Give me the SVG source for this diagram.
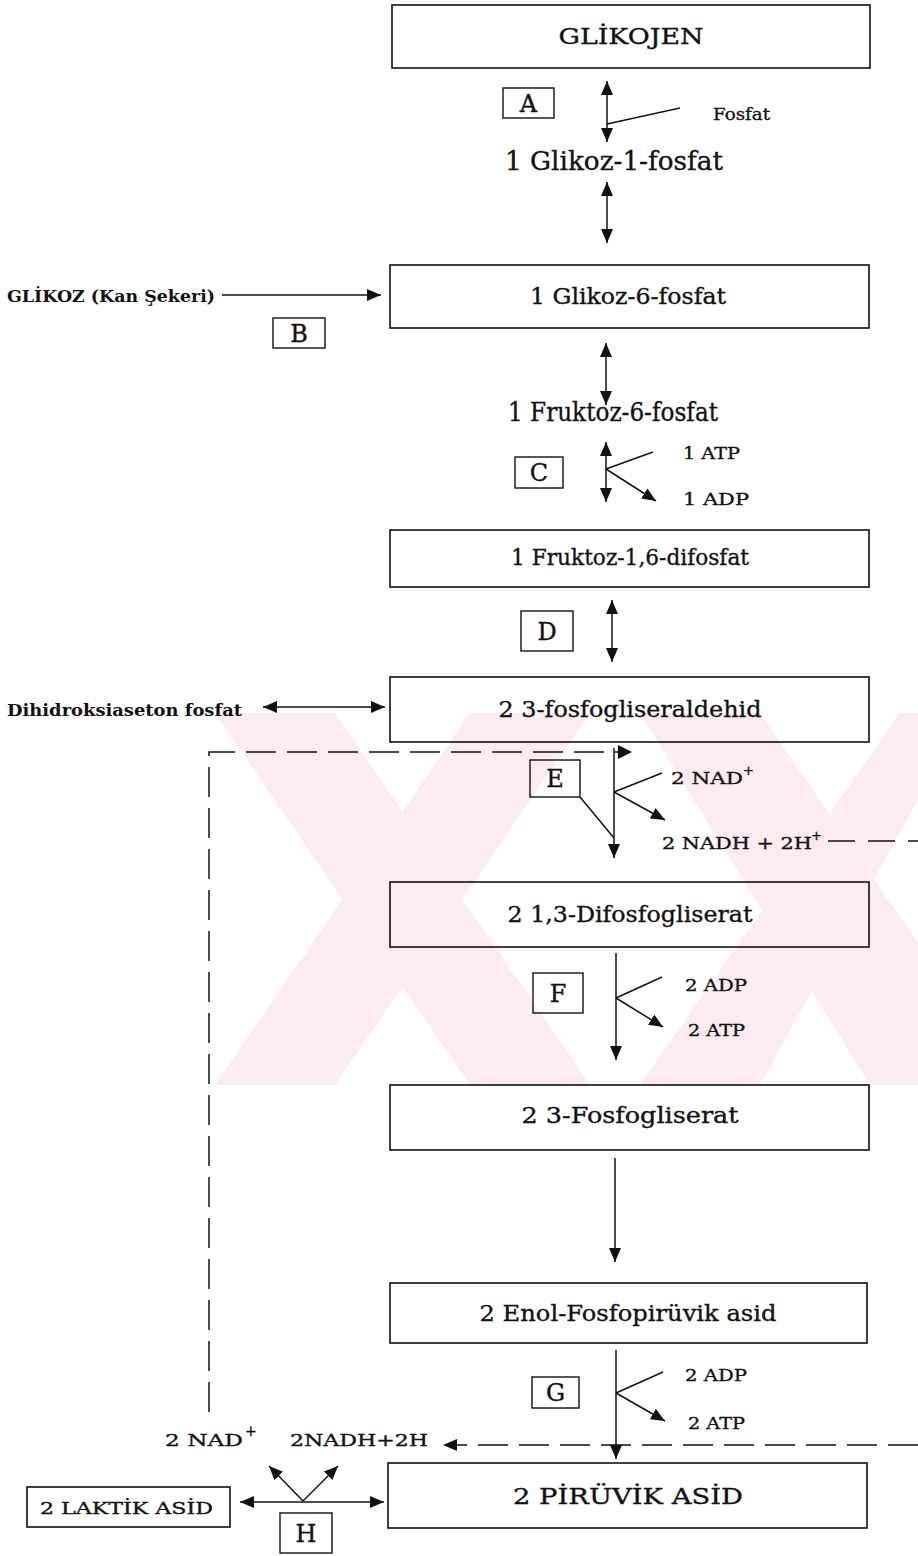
<svg xmlns="http://www.w3.org/2000/svg" width="918" height="1556" viewBox="0 0 918 1556">
<style>
.box{fill:none;stroke:#111;stroke-width:1.6}
.lbl{fill:none;stroke:#111;stroke-width:1.4}
.ln{fill:none;stroke:#111;stroke-width:1.5}
.dash{fill:none;stroke:#111;stroke-width:1.5;stroke-dasharray:30 11}
.t{font-family:"DejaVu Serif","Liberation Serif",serif;fill:#111;stroke:#111;stroke-width:0.35}
.big{font-size:23px}
.mid{font-size:26px}
.sm{font-size:17px}
.bd{font-weight:bold;font-size:17px;stroke-width:0}
.let{font-size:24px;text-anchor:middle}
.c{text-anchor:middle}
.wm{fill:#fdecef}
</style>
<defs>
<marker id="ah" markerUnits="userSpaceOnUse" markerWidth="14" markerHeight="12" refX="14" refY="6" orient="auto-start-reverse">
<path d="M0,0 L14,6 L0,12 z" fill="#111"/>
</marker>
</defs>
<rect width="918" height="1556" fill="#fff"/>
<g id="watermark">
<polygon class="wm" points="215,713 335,713 590,1085 470,1085"/>
<polygon class="wm" points="470,713 590,713 335,1085 215,1085"/>
<polygon class="wm" points="640,713 760,713 918,943 918,1085 870,1085"/>
<polygon class="wm" points="900,713 918,713 918,800 760,1085 640,1085"/>
</g>
<g id="connectors">
<line class="ln" x1="607" y1="81" x2="607" y2="142" marker-start="url(#ah)" marker-end="url(#ah)"/>
<polyline class="ln" points="607,124 680,108"/>
<line class="ln" x1="607" y1="182" x2="607" y2="243" marker-start="url(#ah)" marker-end="url(#ah)"/>
<line class="ln" x1="222" y1="295" x2="381" y2="295" marker-end="url(#ah)"/>
<line class="ln" x1="606" y1="343" x2="606" y2="405" marker-start="url(#ah)" marker-end="url(#ah)"/>
<line class="ln" x1="606" y1="442" x2="606" y2="502" marker-start="url(#ah)" marker-end="url(#ah)"/>
<polyline class="ln" points="653,452 606,469"/>
<line class="ln" x1="606" y1="469" x2="656" y2="501" marker-end="url(#ah)"/>
<line class="ln" x1="612" y1="600" x2="612" y2="662" marker-start="url(#ah)" marker-end="url(#ah)"/>
<line class="ln" x1="263" y1="707" x2="385" y2="707" marker-start="url(#ah)" marker-end="url(#ah)"/>
<polyline class="dash" points="209,1412 209,752 620,752"/>
<path d="M618,745 L632,752 L618,759 z" fill="#111"/>
<line class="ln" x1="614" y1="748" x2="614" y2="858" marker-end="url(#ah)"/>
<polyline class="ln" points="662,773 614,792"/>
<line class="ln" x1="614" y1="792" x2="665" y2="820" marker-end="url(#ah)"/>
<line class="ln" x1="580" y1="797" x2="614" y2="838"/>
<polyline class="dash" points="828,841 918,841" style="stroke-dasharray:27 13"/>
<line class="ln" x1="616" y1="953" x2="616" y2="1060" marker-end="url(#ah)"/>
<polyline class="ln" points="662,977 616,998"/>
<line class="ln" x1="616" y1="998" x2="663" y2="1027" marker-end="url(#ah)"/>
<line class="ln" x1="615" y1="1158" x2="615" y2="1262" marker-end="url(#ah)"/>
<line class="ln" x1="616" y1="1350" x2="616" y2="1459" marker-end="url(#ah)"/>
<polyline class="ln" points="663,1372 616,1393"/>
<line class="ln" x1="616" y1="1393" x2="665" y2="1421" marker-end="url(#ah)"/>
<polyline class="dash" points="918,1445 457,1445"/>
<path d="M457,1439 L443,1445 L457,1451 z" fill="#111"/>
<line class="ln" x1="240" y1="1502" x2="384" y2="1502" marker-start="url(#ah)" marker-end="url(#ah)"/>
<line class="ln" x1="303" y1="1501" x2="269" y2="1466" marker-end="url(#ah)"/>
<line class="ln" x1="303" y1="1501" x2="338" y2="1466" marker-end="url(#ah)"/>
</g>
<g id="n-glikojen"><rect class="box" x="392" y="5" width="478" height="63"/><text class="t big c" x="631" y="44" textLength="145" lengthAdjust="spacingAndGlyphs">GLİKOJEN</text></g>
<g id="n-A"><rect class="lbl" x="503" y="88" width="51" height="30"/><text class="t let" x="528.5" y="112">A</text></g>
<g id="n-fosfat"><text class="t sm" x="713" y="120" textLength="57" lengthAdjust="spacingAndGlyphs">Fosfat</text></g>
<g id="n-g1p"><text class="t mid" x="505" y="170" textLength="218" lengthAdjust="spacingAndGlyphs">1 Glikoz-1-fosfat</text></g>
<g id="n-glikoz"><text class="t bd" x="7" y="302" textLength="208" lengthAdjust="spacingAndGlyphs">GLİKOZ (Kan Şekeri)</text></g>
<g id="n-B"><rect class="lbl" x="273" y="318" width="52" height="30"/><text class="t let" x="299" y="342">B</text></g>
<g id="n-g6p"><rect class="box" x="390" y="265" width="479" height="63"/><text class="t big c" x="628" y="304" textLength="196" lengthAdjust="spacingAndGlyphs">1 Glikoz-6-fosfat</text></g>
<g id="n-f6p"><text class="t mid" x="508" y="421" textLength="210" lengthAdjust="spacingAndGlyphs">1 Fruktoz-6-fosfat</text></g>
<g id="n-C"><rect class="lbl" x="515" y="457" width="48" height="31"/><text class="t let" x="539" y="481">C</text></g>
<g id="n-atp1"><text class="t sm" x="683" y="459" textLength="57" lengthAdjust="spacingAndGlyphs">1 ATP</text><text class="t sm" x="683" y="505" textLength="66" lengthAdjust="spacingAndGlyphs">1 ADP</text></g>
<g id="n-f16"><rect class="box" x="390" y="530" width="479" height="57"/><text class="t big c" x="630" y="565" textLength="238" lengthAdjust="spacingAndGlyphs">1 Fruktoz-1,6-difosfat</text></g>
<g id="n-D"><rect class="lbl" x="521" y="611" width="52" height="40"/><text class="t let" x="547" y="640">D</text></g>
<g id="n-dhap"><text class="t bd" x="7" y="716" textLength="235" lengthAdjust="spacingAndGlyphs">Dihidroksiaseton fosfat</text></g>
<g id="n-g3p"><rect class="box" x="390" y="677" width="479" height="65"/><text class="t big c" x="630" y="717" textLength="263" lengthAdjust="spacingAndGlyphs">2 3-fosfogliseraldehid</text></g>
<g id="n-E"><rect class="lbl" x="530" y="760" width="50" height="37"/><text class="t let" x="555" y="787">E</text></g>
<g id="n-nad1"><text class="t sm" x="671" y="784" textLength="72" lengthAdjust="spacingAndGlyphs">2 NAD</text><text class="t" x="743" y="775" font-size="13">+</text></g>
<g id="n-nadh1"><text class="t sm" x="662" y="849" textLength="150" lengthAdjust="spacingAndGlyphs">2 NADH + 2H</text><text class="t" x="811" y="840" font-size="13">+</text></g>
<g id="n-bpg"><rect class="box" x="390" y="882" width="479" height="65"/><text class="t big c" x="630" y="922" textLength="245" lengthAdjust="spacingAndGlyphs">2 1,3-Difosfogliserat</text></g>
<g id="n-F"><rect class="lbl" x="533" y="973" width="50" height="40"/><text class="t let" x="558" y="1002">F</text></g>
<g id="n-atp2"><text class="t sm" x="685" y="991" textLength="62" lengthAdjust="spacingAndGlyphs">2 ADP</text><text class="t sm" x="688" y="1036" textLength="57" lengthAdjust="spacingAndGlyphs">2 ATP</text></g>
<g id="n-3pg"><rect class="box" x="390" y="1085" width="479" height="65"/><text class="t big c" x="630" y="1123" textLength="217" lengthAdjust="spacingAndGlyphs">2 3-Fosfogliserat</text></g>
<g id="n-pep"><rect class="box" x="390" y="1283" width="477" height="60"/><text class="t big c" x="628" y="1321" textLength="297" lengthAdjust="spacingAndGlyphs">2 Enol-Fosfopirüvik asid</text></g>
<g id="n-G"><rect class="lbl" x="532" y="1377" width="47" height="31"/><text class="t let" x="555.5" y="1401">G</text></g>
<g id="n-atp3"><text class="t sm" x="685" y="1381" textLength="62" lengthAdjust="spacingAndGlyphs">2 ADP</text><text class="t sm" x="688" y="1429" textLength="57" lengthAdjust="spacingAndGlyphs">2 ATP</text></g>
<g id="n-nad2"><text class="t sm" x="165" y="1446" textLength="78" lengthAdjust="spacingAndGlyphs">2 NAD</text><text class="t" x="245" y="1436" font-size="14">+</text></g>
<g id="n-nadh2"><text class="t sm" x="290" y="1446" textLength="138" lengthAdjust="spacingAndGlyphs">2NADH+2H</text></g>
<g id="n-pir"><rect class="box" x="388" y="1463" width="479" height="65"/><text class="t big c" x="628" y="1504" textLength="230" lengthAdjust="spacingAndGlyphs">2 PİRÜVİK ASİD</text></g>
<g id="n-laktik"><rect class="box" x="27" y="1487" width="203" height="40"/><text class="t sm" x="40" y="1514" textLength="173" lengthAdjust="spacingAndGlyphs">2 LAKTİK ASİD</text></g>
<g id="n-H"><rect class="lbl" x="280" y="1513" width="52" height="40"/><text class="t let" x="306" y="1542">H</text></g>
</svg>
